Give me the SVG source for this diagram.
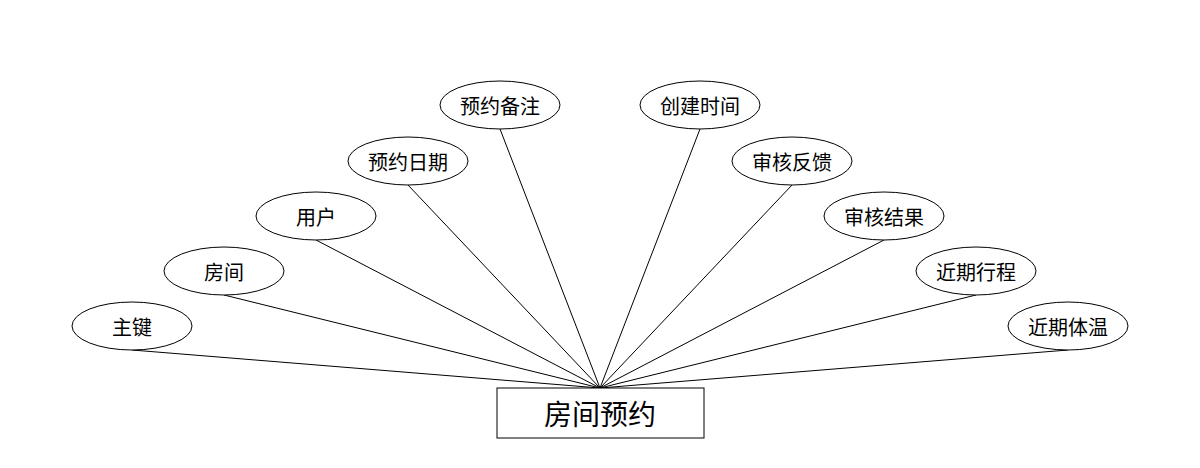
<svg xmlns="http://www.w3.org/2000/svg" width="1200" height="468" viewBox="0 0 1200 468">
<style>
ellipse,rect{fill:#fff;stroke:#000;stroke-width:1}
line{stroke:#000;stroke-width:1}
text{font-family:"Noto Sans CJK SC",sans-serif;font-size:20px;text-anchor:middle;dominant-baseline:central;fill:#000}
</style>
<rect width="1200" height="468" fill="#fff" style="stroke:none"/>
<g id="connectors">
<line x1="132" y1="350" x2="600" y2="388"/>
<line x1="224" y1="295" x2="600" y2="388"/>
<line x1="316" y1="240" x2="600" y2="388"/>
<line x1="408" y1="185" x2="600" y2="388"/>
<line x1="500" y1="129" x2="600" y2="388"/>
<line x1="700" y1="129" x2="600" y2="388"/>
<line x1="792" y1="185" x2="600" y2="388"/>
<line x1="884" y1="240" x2="600" y2="388"/>
<line x1="976" y1="295" x2="600" y2="388"/>
<line x1="1068" y1="350" x2="600" y2="388"/>
</g>
<g id="n1"><ellipse cx="132" cy="326" rx="60" ry="24"/><text x="132" y="326">主键</text></g>
<g id="n2"><ellipse cx="224" cy="271" rx="60" ry="24"/><text x="224" y="271">房间</text></g>
<g id="n3"><ellipse cx="316" cy="216" rx="60" ry="24"/><text x="316" y="216">用户</text></g>
<g id="n4"><ellipse cx="408" cy="161" rx="60" ry="24"/><text x="408" y="161">预约日期</text></g>
<g id="n5"><ellipse cx="500" cy="105" rx="60" ry="24"/><text x="500" y="105">预约备注</text></g>
<g id="n6"><ellipse cx="700" cy="105" rx="60" ry="24"/><text x="700" y="105">创建时间</text></g>
<g id="n7"><ellipse cx="792" cy="161" rx="60" ry="24"/><text x="792" y="161">审核反馈</text></g>
<g id="n8"><ellipse cx="884" cy="216" rx="60" ry="24"/><text x="884" y="216">审核结果</text></g>
<g id="n9"><ellipse cx="976" cy="271" rx="60" ry="24"/><text x="976" y="271">近期行程</text></g>
<g id="n10"><ellipse cx="1068" cy="326" rx="60" ry="24"/><text x="1068" y="326">近期体温</text></g>
<g id="main"><rect x="497" y="388" width="207" height="50"/><text x="600" y="413" style="font-size:28px">房间预约</text></g>
</svg>
